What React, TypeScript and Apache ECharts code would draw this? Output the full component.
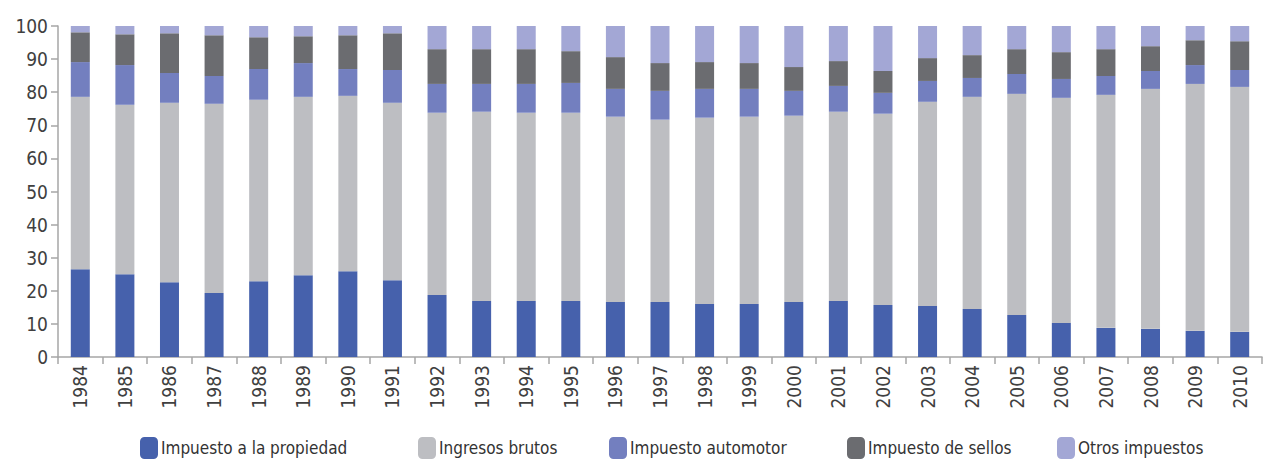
import React, { useEffect, useRef } from "react";
import * as echarts from "echarts";

const years = ["1984","1985","1986","1987","1988","1989","1990","1991","1992","1993","1994","1995","1996","1997","1998","1999","2000","2001","2002","2003","2004","2005","2006","2007","2008","2009","2010"];

// cumulative tops
const propiedadTop = [26.5,25.0,22.6,19.3,22.9,24.7,25.9,23.2,18.7,16.9,16.9,16.9,16.6,16.6,16.0,16.0,16.6,16.9,15.7,15.4,14.5,12.7,10.3,8.8,8.5,7.9,7.6];
const ingresosTop = [78.6,76.2,76.8,76.5,77.7,78.6,78.9,76.8,73.8,74.1,73.8,73.8,72.6,71.7,72.3,72.6,72.9,74.1,73.5,77.1,78.6,79.5,78.3,79.2,81.0,82.5,81.6];
const automotorTop = [89.1,88.2,85.8,84.9,87.0,88.8,87.0,86.7,82.5,82.5,82.5,82.8,81.0,80.4,81.0,81.0,80.4,81.9,79.8,83.4,84.3,85.5,84.0,84.9,86.4,88.2,86.7];
const sellosTop = [98.1,97.5,97.8,97.2,96.6,96.9,97.2,97.8,93.0,93.0,93.0,92.4,90.6,88.8,89.1,88.8,87.6,89.4,86.4,90.3,91.2,93.0,92.1,93.0,93.9,95.7,95.4];

const r1 = (v: number) => Math.round(v * 10) / 10;
const propiedad = propiedadTop.map(r1);
const ingresos = ingresosTop.map((v, i) => r1(v - propiedadTop[i]));
const automotor = automotorTop.map((v, i) => r1(v - ingresosTop[i]));
const sellos = sellosTop.map((v, i) => r1(v - automotorTop[i]));
const otros = sellosTop.map((v) => r1(100 - v));

const seriesNames = ["Impuesto a la propiedad", "Ingresos brutos", "Impuesto automotor", "Impuesto de sellos", "Otros impuestos"];
const seriesColors = ["#4661ac", "#bdbec2", "#737fbf", "#6b6c70", "#a3a7d5"];
const seriesData = [propiedad, ingresos, automotor, sellos, otros];
const legendLefts = [140, 418, 609, 847, 1057];
const yTicks = [0, 10, 20, 30, 40, 50, 60, 70, 80, 90, 100];

const FONT = "'Liberation Sans Narrow', 'DejaVu Sans Condensed', 'Noto Sans', sans-serif";

export default function App() {
  const ref = useRef<HTMLDivElement>(null);
  useEffect(() => {
    if (!ref.current) return;
    const chart = echarts.init(ref.current, null, { renderer: "svg" });
    chart.setOption({
      animation: false,
      backgroundColor: "#ffffff",
      grid: { left: 58, right: 8, top: 26, bottom: 105, containLabel: false },
      legend: seriesNames.map((n, i) => ({
        data: [n],
        left: legendLefts[i],
        top: 437,
        itemWidth: 18,
        itemHeight: 22,
        itemGap: 5,
        padding: 0,
        textStyle: { fontFamily: FONT, fontSize: 17, color: "#333333", padding: [0, 0, 0, -2] },
      })),
      xAxis: {
        type: "category",
        data: years,
        boundaryGap: true,
        axisLine: { show: true, lineStyle: { color: "#a6a6a6", width: 1.5 } },
        axisTick: { show: true, length: 7, alignWithLabel: false, lineStyle: { color: "#a6a6a6", width: 1.5 } },
        axisLabel: { rotate: 90, margin: 8, fontFamily: FONT, fontSize: 19, color: "#404040" },
        splitLine: { show: false },
      },
      yAxis: {
        type: "value",
        min: 0,
        max: 100,
        interval: 10,
        axisLine: { show: true, lineStyle: { color: "#a6a6a6", width: 1.5 } },
        axisTick: { show: true, length: 7, lineStyle: { color: "#a6a6a6", width: 1.5 } },
        axisLabel: { margin: 10, fontFamily: FONT, fontSize: 19, color: "#404040" },
        splitLine: { show: false },
      },
      series: seriesNames.map((n, i) => ({
        name: n,
        type: "bar",
        stack: "total",
        barWidth: 19,
        data: seriesData[i],
        itemStyle: { color: seriesColors[i] },
      })),
    });
    return () => chart.dispose();
  }, []);
  return <div ref={ref} style={{ width: 1270, height: 462, position: "absolute", left: 0, top: 0 }} />;
}
